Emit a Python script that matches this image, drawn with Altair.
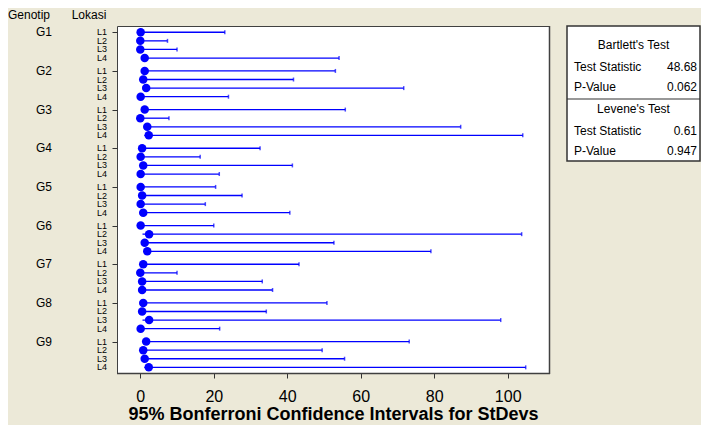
import altair as alt
import pandas as pd

genotypes = ["G1", "G2", "G3", "G4", "G5", "G6", "G7", "G8", "G9"]
locations = ["L1", "L2", "L3", "L4"]

stdev = [0.1, 0.0, 0.0, 1.2,
         1.2, 0.8, 1.6, 0.1,
         1.2, 0.0, 1.9, 2.3,
         0.5, 0.1, 0.8, 0.1,
         0.1, 0.5, 0.1, 0.8,
         0.1, 2.4, 1.2, 1.9,
         0.8, 0.0, 0.5, 0.5,
         0.8, 0.5, 2.4, 0.1,
         1.6, 0.8, 1.2, 2.3]
lower = [0.05, 0.0, 0.0, 0.6,
         0.6, 0.4, 0.8, 0.05,
         0.6, 0.0, 0.9, 1.1,
         0.25, 0.05, 0.4, 0.05,
         0.05, 0.25, 0.05, 0.4,
         0.05, 0.6, 0.6, 0.9,
         0.4, 0.0, 0.25, 0.25,
         0.4, 0.25, 0.6, 0.05,
         0.8, 0.4, 0.6, 1.1]
upper = [23.0, 7.4, 10.0, 54.1,
         53.1, 41.7, 71.7, 24.0,
         55.8, 7.8, 87.2, 104.1,
         32.6, 16.3, 41.4, 21.5,
         20.5, 27.7, 17.7, 40.7,
         20.0, 103.8, 52.7, 79.1,
         43.2, 10.0, 33.2, 36.0,
         50.8, 34.3, 98.1, 21.6,
         73.2, 49.5, 55.6, 104.9]

x_ticks = [0, 20, 40, 60, 80, 100]
test_rows = [("Bartlett's Test", ""), ("Test Statistic", "48.68"), ("P-Value", "0.062"),
             ("Levene's Test", ""), ("Test Statistic", "0.61"), ("P-Value", "0.947")]

rows = []
for j, g in enumerate(genotypes):
    for i, l in enumerate(locations):
        k = j * 4 + i
        rows.append({"genotip": g, "lokasi": l, "pos": j * 4.5 + i,
                     "sd": stdev[k], "lo": lower[k], "hi": upper[k]})
df = pd.DataFrame(rows)
positions = list(df["pos"])

FONT = "Liberation Sans"
BLUE = "#0000FF"
W, H = 432, 347

xs = alt.Scale(domain=[-6.34, 111.24], nice=False, zero=False)
ys = alt.Scale(domain=[-0.73, 39.66], nice=False, zero=False, reverse=True)

xenc = alt.X("lo:Q", scale=xs, axis=alt.Axis(
    values=x_ticks, tickSize=5, tickColor="#333333", domain=False, grid=False,
    labelFont=FONT, labelFontSize=16, labelColor="#000000", labelPadding=10,
    title="95% Bonferroni Confidence Intervals for StDevs", titleFont=FONT,
    titleFontSize=18, titleFontWeight="bold", titleColor="#000000", titlePadding=1))
yenc = alt.Y("pos:Q", scale=ys, axis=alt.Axis(
    values=positions, tickSize=5, tickColor="#333333", domain=False, grid=False,
    labels=False, title=None))

base = alt.Chart(df)
ci = base.mark_rule(color=BLUE, strokeWidth=1.3).encode(x=xenc, x2="hi:Q", y=yenc)
caps = base.mark_tick(orient="vertical", size=4, thickness=1.5, color=BLUE).encode(
    x=alt.X("hi:Q", scale=xs), y=alt.Y("pos:Q", scale=ys))
dots = base.mark_circle(size=72, opacity=1, color=BLUE).encode(
    x=alt.X("sd:Q", scale=xs), y=alt.Y("pos:Q", scale=ys))
llabels = base.mark_text(font=FONT, fontSize=9, color="#000000", align="right",
                         baseline="middle").encode(
    x=alt.value(-10), y=alt.Y("pos:Q", scale=ys), text="lokasi:N")
glabels = base.transform_filter(alt.datum.lokasi == "L1").mark_text(
    font=FONT, fontSize=12, color="#000000", align="center", baseline="middle").encode(
    x=alt.value(-73), y=alt.Y("pos:Q", scale=ys), text="genotip:N")

hdr = pd.DataFrame({"t": ["Genotip", "Lokasi"], "px": [-88, -28], "py": [-11, -11]})
headers = alt.Chart(hdr).mark_text(font=FONT, fontSize=12, color="#000000",
                                   align="center", baseline="middle").encode(
    x=alt.X("px:Q", scale=None), y=alt.Y("py:Q", scale=None), text="t:N")

# right-hand test summary box
BX0, BX1 = 450, 583
box = alt.Chart(pd.DataFrame({"a": [0]})).mark_rect(
    fill="#FFFFFF", stroke="#333333", strokeWidth=1.5).encode(
    x=alt.value(BX0), x2=alt.value(BX1), y=alt.value(0), y2=alt.value(135))
sep = alt.Chart(pd.DataFrame({"a": [0]})).mark_rule(color="#333333", strokeWidth=1.2).encode(
    x=alt.value(BX0), x2=alt.value(BX1), y=alt.value(73))

row_y = [19, 41, 61, 83, 105, 125]
titles_df = pd.DataFrame({"t": [r[0] for r in test_rows if r[1] == ""],
                          "py": [row_y[k] for k, r in enumerate(test_rows) if r[1] == ""]})
names_df = pd.DataFrame({"t": [r[0] for r in test_rows if r[1] != ""],
                         "v": [r[1] for r in test_rows if r[1] != ""],
                         "py": [row_y[k] for k, r in enumerate(test_rows) if r[1] != ""]})
box_titles = alt.Chart(titles_df).mark_text(font=FONT, fontSize=12, color="#000000",
                                            align="center", baseline="middle").encode(
    x=alt.value((BX0 + BX1) / 2), y=alt.Y("py:Q", scale=None), text="t:N")
box_names = alt.Chart(names_df).mark_text(font=FONT, fontSize=12, color="#000000",
                                          align="left", baseline="middle").encode(
    x=alt.value(BX0 + 7), y=alt.Y("py:Q", scale=None), text="t:N")
box_vals = alt.Chart(names_df).mark_text(font=FONT, fontSize=12, color="#000000",
                                         align="right", baseline="middle").encode(
    x=alt.value(BX1 - 3), y=alt.Y("py:Q", scale=None), text="v:N")

shadow_r = alt.Chart(pd.DataFrame({"a": [0]})).mark_rule(color="#404040", strokeWidth=1.5).encode(
    x=alt.value(W + 0.5), y=alt.value(0), y2=alt.value(H + 1))
shadow_b = alt.Chart(pd.DataFrame({"a": [0]})).mark_rule(color="#404040", strokeWidth=1.5).encode(
    x=alt.value(0), x2=alt.value(W + 1), y=alt.value(H + 0.5))

chart = alt.layer(ci, caps, dots, llabels, glabels, headers, box, sep, box_titles,
                  box_names, box_vals, shadow_r, shadow_b).properties(
    width=W, height=H,
    padding={"left": 109, "top": 18, "right": 152, "bottom": 52},
    autosize=alt.AutoSizeParams(type="none"),
    background="#ECE9D8",
).configure_view(fill="#FFFFFF", stroke="#404040", strokeWidth=1)

chart.save("out.html", embed_options={"renderer": "svg", "actions": False})
